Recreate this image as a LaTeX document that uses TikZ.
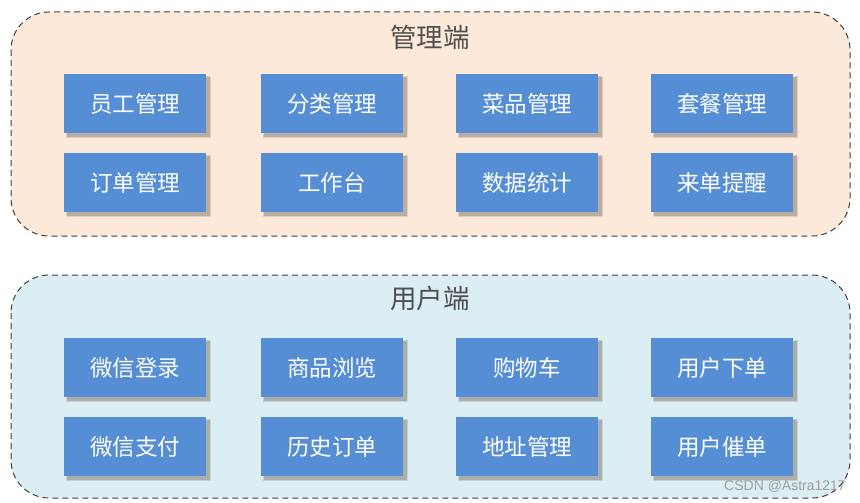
\documentclass[tikz,border=0pt]{standalone}
\usepackage{fontspec}
\newfontfamily\cjk{Noto Sans CJK SC}
\newfontfamily\wm{Liberation Sans}
\definecolor{boxblue}{RGB}{85,142,213}
\definecolor{topfill}{RGB}{253,233,217}
\definecolor{botfill}{RGB}{218,238,243}
\definecolor{edge}{RGB}{64,64,64}
\definecolor{titlegray}{RGB}{80,80,80}
\definecolor{shadowc}{RGB}{140,130,120}
\begin{document}
\begin{tikzpicture}[x=1pt,y=-1pt,
  panel/.style={draw=edge,dashed,dash pattern=on 6pt off 4pt,line width=1pt,rounded corners=38pt},
  item/.style={fill=boxblue,minimum width=142pt,minimum height=59pt,inner sep=0pt,text=white,font=\cjk\fontsize{22.5}{25}\selectfont,anchor=north west},
  ttl/.style={text=titlegray,font=\cjk\fontsize{26.5}{30}\selectfont}]
\useasboundingbox (0,0) rectangle (860,503);
\fill[white] (0,0) rectangle (860,503);
% panels
\draw[panel,fill=topfill] (11,12) rectangle (850,236);
\draw[panel,fill=botfill] (11,275) rectangle (850,498);
\node[ttl] (t1) at (430,37) {管理端};
\node[ttl] (t2) at (430,298) {用户端};
% shadows
\foreach \x in {64,261,456,651}{
  \foreach \y in {74,153,338,417}{
    \fill[shadowc,opacity=0.25] (\x+2,\y+2) rectangle (\x+147,\y+64);
    \fill[shadowc,opacity=0.45] (\x+3,\y+3) rectangle (\x+145.5,\y+62.5);
  }
}
% boxes
\node[item] (a1) at (64,74) {员工管理};
\node[item] (a2) at (261,74) {分类管理};
\node[item] (a3) at (456,74) {菜品管理};
\node[item] (a4) at (651,74) {套餐管理};
\node[item] (a5) at (64,153) {订单管理};
\node[item] (a6) at (261,153) {工作台};
\node[item] (a7) at (456,153) {数据统计};
\node[item] (a8) at (651,153) {来单提醒};
\node[item] (b1) at (64,338) {微信登录};
\node[item] (b2) at (261,338) {商品浏览};
\node[item] (b3) at (456,338) {购物车};
\node[item] (b4) at (651,338) {用户下单};
\node[item] (b5) at (64,417) {微信支付};
\node[item] (b6) at (261,417) {历史订单};
\node[item] (b7) at (456,417) {地址管理};
\node[item] (b8) at (651,417) {用户催单};
\node[text=gray!75,font=\wm\fontsize{14}{15}\selectfont,anchor=east,inner sep=0pt] (w) at (846,486) {CSDN @Astra1217};
\end{tikzpicture}
\end{document}
